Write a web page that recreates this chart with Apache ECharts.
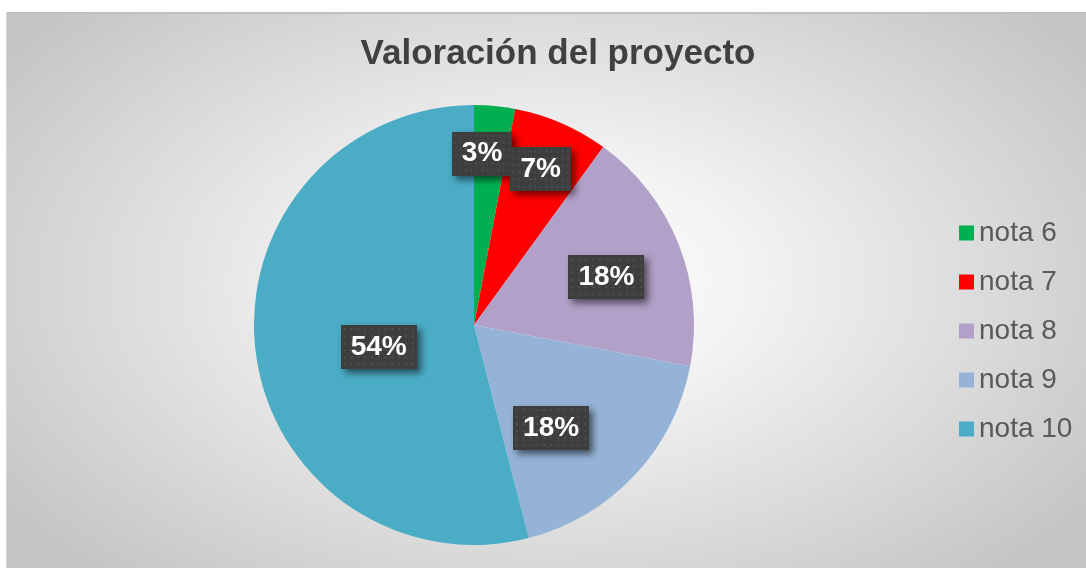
<!DOCTYPE html>
<html>
<head>
<meta charset="utf-8">
<title>Valoración del proyecto</title>
<script src="https://cdn.jsdelivr.net/npm/echarts@6/dist/echarts.min.js"></script>
<style>
html, body { margin: 0; padding: 0; background: #fff; }
#frame {
	position: absolute; left: 6px; top: 12px; width: 1080px; height: 556px;
	border-top: 2px solid #bfbfbf; border-left: 1px solid #d6d6d6;
	background: radial-gradient(ellipse 62% 72% at 50% 48%, #ffffff 0%, #f3f3f3 30%, #c4c4c4 100%);
}
#main { position: absolute; left: 0; top: 0; width: 1086px; height: 568px; }
</style>
</head>
<body>
<div id="frame"></div>
<div id="main"></div>
<script>
// datos
var categorias = ['nota 6', 'nota 7', 'nota 8', 'nota 9', 'nota 10'];
var valores = [3, 7, 18, 18, 54];
var colores = ['#00b050', '#ff0000', '#b1a0c7', '#95b3d7', '#4bacc6'];

// posicion de etiquetas (tipo "mejor ajuste" de Excel): desplazamiento angular y radio relativo
var etiquetaGiro = [-2.7, -0.2, 1.8, 10, -6];
var etiquetaRadio = [0.78, 0.77, 0.64, 0.585, 0.445];

var CX = 474, CY = 325, R = 220;

// fondo punteado de las etiquetas
function crearPatron() {
	var c = document.createElement('canvas');
	c.width = 78; c.height = 44;
	var ctx = c.getContext('2d');
	ctx.fillStyle = '#3e3e3e';
	ctx.fillRect(0, 0, c.width, c.height);
	ctx.fillStyle = '#505050';
	for (var y = 3; y < c.height; y += 7) {
		for (var x = 3; x < c.width; x += 7) {
			ctx.fillRect(x, y, 2, 2);
		}
	}
	return c;
}

var total = 0;
for (var i = 0; i < valores.length; i++) total += valores[i];

function anguloMedio(idx) {
	var acum = 0;
	for (var k = 0; k < idx; k++) acum += valores[k];
	return (acum + valores[idx] / 2) / total * 360;
}

var datos = [];
for (var i = 0; i < categorias.length; i++) {
	datos.push({ name: categorias[i], value: valores[i], itemStyle: { color: colores[i] } });
}

var patron = crearPatron();
var chart = echarts.init(document.getElementById('main'), null, { renderer: 'canvas' });

var option = {
	backgroundColor: 'transparent',
	animation: false,
	title: {
		text: 'Valoración del proyecto',
		left: 553,
		top: 32,
		textAlign: 'center',
		textStyle: {
			fontFamily: 'Liberation Sans, Arial, sans-serif',
			fontSize: 35,
			fontWeight: 'bold',
			color: '#404040'
		}
	},
	legend: {
		orient: 'vertical',
		left: 954,
		top: 214,
		icon: 'rect',
		itemWidth: 15,
		itemHeight: 15,
		itemGap: 21,
		data: categorias,
		textStyle: {
			fontFamily: 'Liberation Sans, Arial, sans-serif',
			fontSize: 28,
			lineHeight: 28,
			color: '#595959'
		}
	},
	series: [{
		name: 'Valoración',
		type: 'pie',
		center: [CX, CY],
		radius: R,
		startAngle: 90,
		clockwise: true,
		silent: true,
		data: datos,
		itemStyle: { borderWidth: 0 },
		label: {
			show: true,
			position: 'inside',
			formatter: function (p) { return Math.round(p.percent) + '%'; },
			fontFamily: 'Liberation Sans, Arial, sans-serif',
			fontSize: 28,
			fontWeight: 'bold',
			color: '#ffffff',
			backgroundColor: { image: patron },
			padding: [9, 10, 7, 10],
			shadowColor: 'rgba(0,0,0,0.55)',
			shadowBlur: 7,
			shadowOffsetX: 4,
			shadowOffsetY: 4
		},
		labelLine: { show: false },
		labelLayout: function (params) {
			var i = params.dataIndex;
			var a = (anguloMedio(i) + etiquetaGiro[i]) * Math.PI / 180;
			var r = R * etiquetaRadio[i];
			return { x: CX + r * Math.sin(a), y: CY - r * Math.cos(a) };
		}
	}]
};

chart.setOption(option);
</script>
</body>
</html>
